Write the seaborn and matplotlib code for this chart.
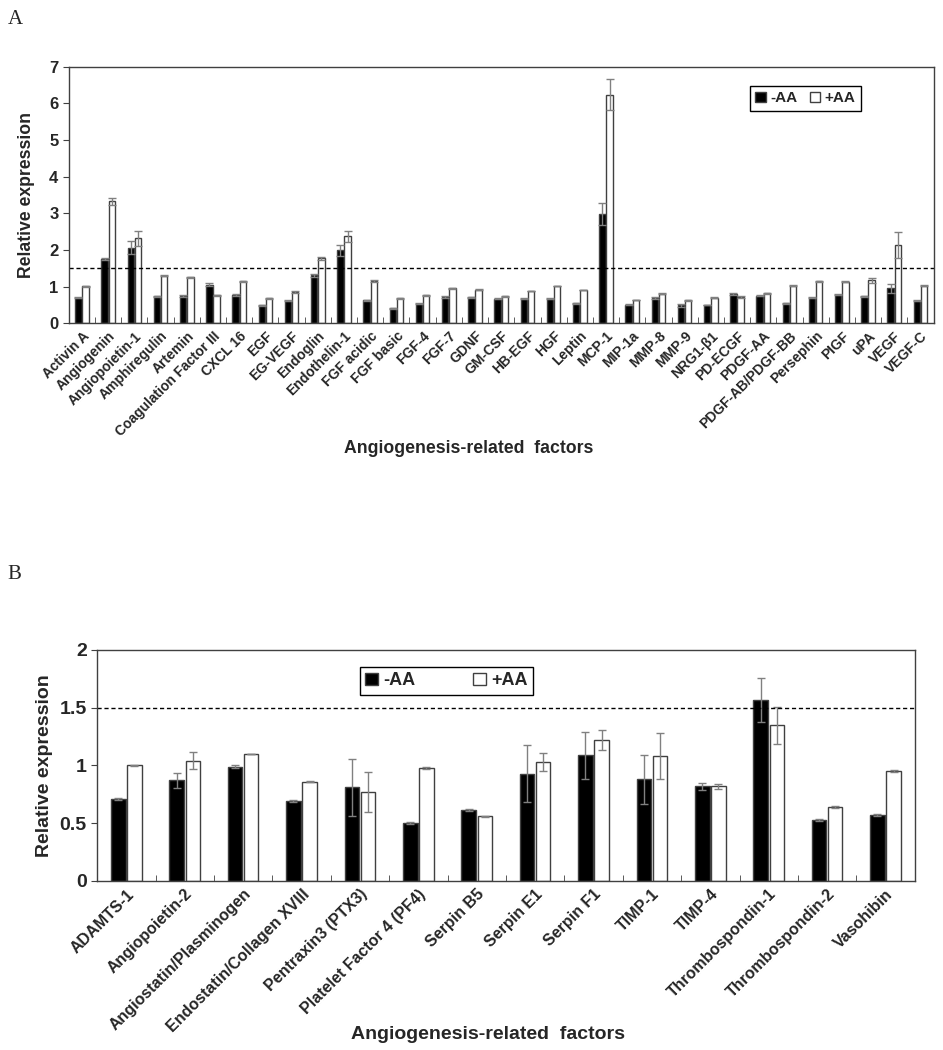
import numpy as np
import pandas as pd
import seaborn as sns
import matplotlib.pyplot as plt
from matplotlib.ticker import FuncFormatter

# Panel A data
factors_a = ["Activin A", "Angiogenin", "Angiopoietin-1", "Amphiregulin", "Artemin",
             "Coagulation Factor III", "CXCL 16", "EGF", "EG-VEGF", "Endoglin",
             "Endothelin-1", "FGF acidic", "FGF basic", "FGF-4", "FGF-7", "GDNF",
             "GM-CSF", "HB-EGF", "HGF", "Leptin", "MCP-1", "MIP-1a", "MMP-8", "MMP-9",
             "NRG1-β1", "PD-ECGF", "PDGF-AA", "PDGF-AB/PDGF-BB", "Persephin", "PIGF",
             "uPA", "VEGF", "VEGF-C"]
minus_a = [0.70, 1.75, 2.06, 0.74, 0.75, 1.06, 0.77, 0.49, 0.62, 1.31, 1.99, 0.63, 0.41,
           0.54, 0.72, 0.71, 0.67, 0.67, 0.67, 0.55, 2.99, 0.51, 0.69, 0.49, 0.50, 0.80,
           0.76, 0.55, 0.70, 0.78, 0.74, 0.96, 0.62]
plus_a = [1.01, 3.33, 2.32, 1.30, 1.26, 0.77, 1.15, 0.68, 0.85, 1.78, 2.37, 1.15, 0.68,
          0.77, 0.96, 0.92, 0.74, 0.88, 1.02, 0.91, 6.24, 0.64, 0.81, 0.63, 0.70, 0.72,
          0.82, 1.03, 1.15, 1.14, 1.17, 2.13, 1.03]
minus_a_err = [0.01, 0.02, 0.18, 0.02, 0.02, 0.03, 0.03, 0.02, 0.02, 0.04, 0.14, 0.01, 0.01,
               0.01, 0.02, 0.01, 0.01, 0.01, 0.01, 0.01, 0.30, 0.01, 0.02, 0.03, 0.01, 0.03,
               0.02, 0.01, 0.01, 0.01, 0.01, 0.12, 0.01]
plus_a_err = [0.01, 0.10, 0.20, 0.01, 0.01, 0.01, 0.01, 0.01, 0.02, 0.04, 0.15, 0.02, 0.01,
              0.01, 0.01, 0.01, 0.01, 0.01, 0.01, 0.01, 0.42, 0.01, 0.01, 0.02, 0.01, 0.02,
              0.01, 0.01, 0.01, 0.02, 0.06, 0.36, 0.02]

# Panel B data
factors_b = ["ADAMTS-1", "Angiopoietin-2", "Angiostatin/Plasminogen", "Endostatin/Collagen XVIII",
             "Pentraxin3 (PTX3)", "Platelet Factor 4 (PF4)", "Serpin B5", "Serpin E1",
             "Serpin F1", "TIMP-1", "TIMP-4", "Thrombospondin-1", "Thrombospondin-2", "Vasohibin"]
minus_b = [0.71, 0.87, 0.99, 0.69, 0.81, 0.50, 0.615, 0.93, 1.087, 0.88, 0.82, 1.565, 0.53, 0.57]
plus_b = [1.00, 1.04, 1.10, 0.86, 0.77, 0.98, 0.56, 1.03, 1.22, 1.08, 0.82, 1.35, 0.64, 0.95]
minus_b_err = [0.01, 0.065, 0.015, 0.01, 0.25, 0.01, 0.01, 0.25, 0.20, 0.21, 0.03, 0.19, 0.01, 0.01]
plus_b_err = [0.005, 0.075, 0.003, 0.003, 0.17, 0.01, 0.003, 0.08, 0.09, 0.20, 0.02, 0.16, 0.005, 0.01]

groups = ["-AA", "+AA"]
threshold = 1.5

sns.set_style("ticks")
plt.rcParams["font.family"] = ["Liberation Sans", "DejaVu Sans"]
plt.rcParams["font.weight"] = "bold"

fig = plt.figure(figsize=(9.43, 10.5), dpi=100)
ax_a = fig.add_axes([0.073, 0.692, 0.917, 0.2445])
ax_b = fig.add_axes([0.103, 0.161, 0.867, 0.220])


def draw_panel(ax, factors, minus, plus, minus_err, plus_err, ymax, yticks,
               tick_size, ytick_size, label_size):
    df = pd.DataFrame({
        "factor": factors * 2,
        "group": [groups[0]] * len(factors) + [groups[1]] * len(factors),
        "value": list(minus) + list(plus),
    })
    sns.barplot(data=df, x="factor", y="value", hue="group", hue_order=groups,
                palette={"-AA": "black", "+AA": "white"}, width=0.55, gap=0.1,
                edgecolor="#404040", linewidth=1, errorbar=None, ax=ax)
    bar_conts = list(ax.containers)
    for cont, errs in zip(bar_conts, [minus_err, plus_err]):
        xs = [b.get_x() + b.get_width() / 2 for b in cont]
        hs = [b.get_height() for b in cont]
        ax.errorbar(xs, hs, yerr=errs, fmt="none", ecolor="#808080",
                    elinewidth=1, capsize=3, capthick=1)
    ax.axhline(threshold, color="black", linestyle=(0, (3, 2)), linewidth=1)
    n = len(factors)
    ax.set_xlim(-0.5, n - 0.5)
    ax.set_ylim(0, ymax)
    ax.set_yticks(yticks)
    ax.yaxis.set_major_formatter(FuncFormatter(lambda v, p: "%g" % v))
    ax.set_xticks(range(n))
    ax.set_xticklabels(factors, rotation=45, ha="right", rotation_mode="anchor",
                       fontsize=tick_size, fontweight="bold")
    ax.set_xticks(np.arange(n + 1) - 0.5, minor=True)
    ax.tick_params(axis="x", which="major", length=0, pad=4)
    ax.tick_params(axis="x", which="minor", length=4, direction="in", color="#404040")
    ax.tick_params(axis="y", labelsize=ytick_size, length=4, color="#404040")
    for t in ax.get_yticklabels():
        t.set_fontweight("bold")
    for s in ax.spines.values():
        s.set_color("#404040")
        s.set_linewidth(1)
    ax.set_ylabel("Relative expression", fontsize=label_size, fontweight="bold")
    ax.set_xlabel("Angiogenesis-related  factors", fontsize=label_size, fontweight="bold")
    if ax.get_legend() is not None:
        ax.get_legend().remove()
    return [cont.patches[0] for cont in bar_conts]


h_a = draw_panel(ax_a, factors_a, minus_a, plus_a, minus_a_err, plus_a_err,
                 7, range(0, 8), 10, 12, 12.7)
ax_a.legend(h_a, groups, loc="upper right", bbox_to_anchor=(0.925, 0.955), ncol=2,
            frameon=True, fancybox=False, edgecolor="black", framealpha=1,
            handlelength=0.7, handleheight=0.7, handletextpad=0.3, columnspacing=0.8,
            borderpad=0.35, prop={"weight": "bold", "size": 11})
ax_a.xaxis.set_label_coords(0.462, -0.455)
ax_a.yaxis.set_label_coords(-0.039, 0.5)

h_b = draw_panel(ax_b, factors_b, minus_b, plus_b, minus_b_err, plus_b_err,
                 2, [0, 0.5, 1, 1.5, 2], 11.5, 14, 14)
ax_b.legend(h_b, groups, loc="upper left", bbox_to_anchor=(0.31, 0.965), ncol=2,
            frameon=True, fancybox=False, edgecolor="black", framealpha=1,
            handlelength=0.7, handleheight=0.7, handletextpad=0.3, columnspacing=3.2,
            borderpad=0.3, prop={"weight": "bold", "size": 13})
ax_b.xaxis.set_label_coords(0.478, -0.63)
ax_b.yaxis.set_label_coords(-0.054, 0.5)

fig.text(0.008, 1 - 10 / 1050, "A", family="Liberation Serif", fontsize=15,
         fontweight="normal", va="top")
fig.text(0.008, 1 - 565 / 1050, "B", family="Liberation Serif", fontsize=15,
         fontweight="normal", va="top")

fig.savefig("out.png", dpi=100)
